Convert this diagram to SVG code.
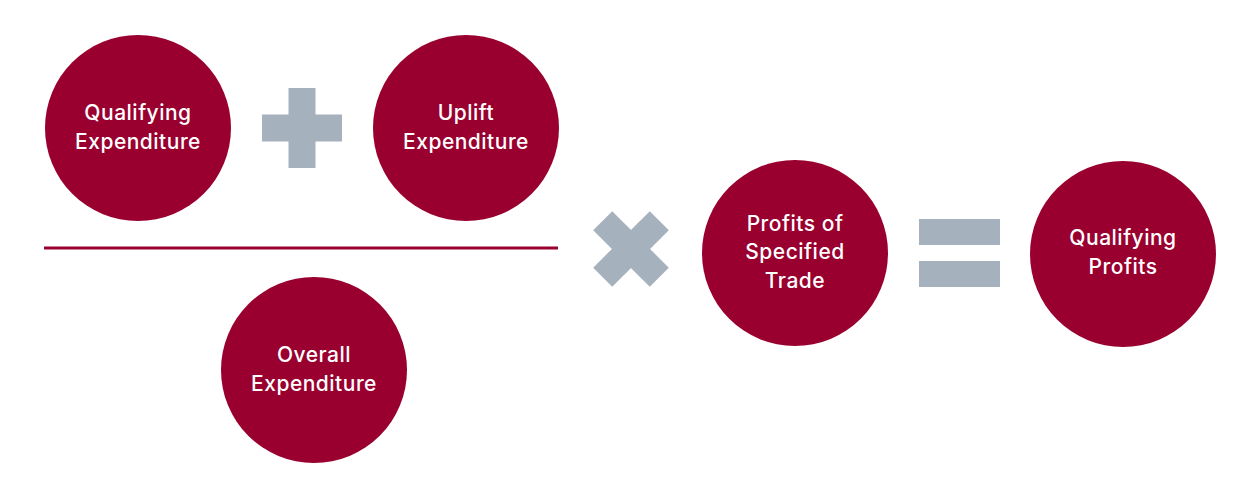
<svg xmlns="http://www.w3.org/2000/svg" width="1260" height="500" viewBox="0 0 1260 500">
  <style>
    .node { fill: #99002F; }
    .op { fill: #A5B1BD; }
    .lbl { fill: #FFFFFF; font-family: Inter, "Open Sans", "Liberation Sans", sans-serif; font-size: 21px; font-weight: 500; letter-spacing: 0.5px; text-anchor: middle; }
  </style>
  <defs>
    <g id="plusShape">
      <rect x="-40" y="-13.5" width="80" height="27"/>
      <rect x="-13.5" y="-40" width="27" height="80"/>
    </g>
  </defs>
  <rect width="1260" height="500" fill="#FFFFFF"/>

  <g id="connectors">
    <line x1="44" y1="248" x2="558" y2="248" stroke="#99002F" stroke-width="3"/>
    <use href="#plusShape" class="op" transform="translate(302,128)"/>
    <use href="#plusShape" class="op" transform="translate(631,249) rotate(45)"/>
    <rect class="op" x="919" y="219" width="81" height="26"/>
    <rect class="op" x="919" y="261" width="81" height="26"/>
  </g>

  <g id="qualifying-expenditure">
    <circle class="node" cx="138" cy="128" r="93"/>
    <text class="lbl" x="138" y="120">Qualifying</text>
    <text class="lbl" x="138" y="149">Expenditure</text>
  </g>

  <g id="uplift-expenditure">
    <circle class="node" cx="466" cy="128" r="93"/>
    <text class="lbl" x="466" y="120">Uplift</text>
    <text class="lbl" x="466" y="149">Expenditure</text>
  </g>

  <g id="overall-expenditure">
    <circle class="node" cx="314" cy="370" r="93"/>
    <text class="lbl" x="314" y="362">Overall</text>
    <text class="lbl" x="314" y="391">Expenditure</text>
  </g>

  <g id="profits-specified-trade">
    <circle class="node" cx="795" cy="253" r="93"/>
    <text class="lbl" x="795" y="231">Profits of</text>
    <text class="lbl" x="795" y="259">Specified</text>
    <text class="lbl" x="795" y="288">Trade</text>
  </g>

  <g id="qualifying-profits">
    <circle class="node" cx="1123" cy="254" r="93"/>
    <text class="lbl" x="1123" y="245">Qualifying</text>
    <text class="lbl" x="1123" y="274">Profits</text>
  </g>
</svg>
